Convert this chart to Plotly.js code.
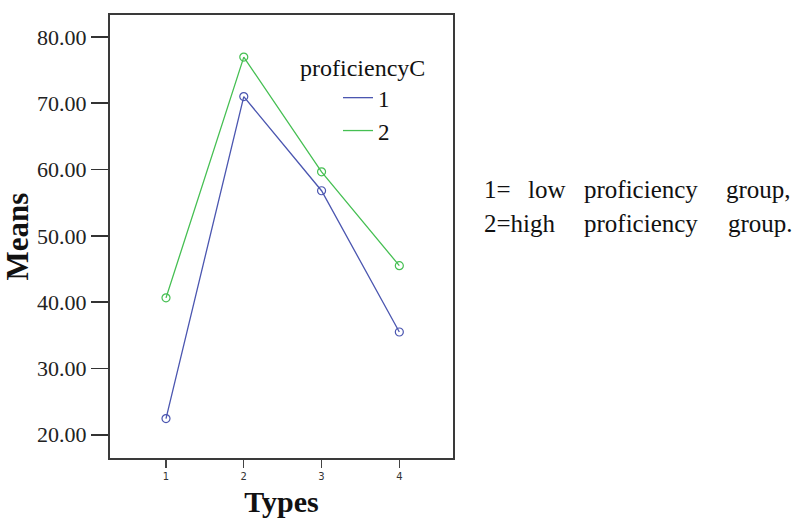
<!DOCTYPE html>
<html>
<head>
<meta charset="utf-8">
<script src="https://cdn.plot.ly/plotly-3.0.1.min.js"></script>
<style>html,body{margin:0;padding:0;background:#fff;}#chart{width:803px;height:523px;}</style>
</head>
<body>
<div id="chart"></div>
<script>
// Data
const types = [1, 2, 3, 4];
const typeLabels = ["1", "2", "3", "4"];
const lowGroup = [22.45, 71.0, 56.8, 35.5];   // proficiencyC = 1
const highGroup = [40.65, 76.95, 59.65, 45.5]; // proficiencyC = 2
const seriesNames = ["1", "2"];
const yTicks = [20, 30, 40, 50, 60, 70, 80];
const noteLine1 = ["1=", "low", "proficiency", "group,"];
const noteLine2 = ["2=high", "proficiency", "group."];

const blue = "#4b56b0";
const green = "#45bf52";
const serif = "Liberation Serif, Times New Roman, serif";

const traces = [
  {x: types, y: lowGroup, name: seriesNames[0], type: "scatter", mode: "lines+markers",
   showlegend: false, line: {color: blue, width: 1.3},
   marker: {symbol: "circle-open", size: 8, color: blue, line: {width: 1.2}}},
  {x: types, y: highGroup, name: seriesNames[1], type: "scatter", mode: "lines+markers",
   showlegend: false, line: {color: green, width: 1.3},
   marker: {symbol: "circle-open", size: 8, color: green, line: {width: 1.2}}},
  // legend entries (line only, as in the reference legend)
  {x: [null], y: [null], name: seriesNames[0], type: "scatter", mode: "lines",
   line: {color: blue, width: 1.3}},
  {x: [null], y: [null], name: seriesNames[1], type: "scatter", mode: "lines",
   line: {color: green, width: 1.3}}
];

// pixel helpers for note placement (plot area: x 110..453, y 15..458)
const L = 110, R = 453, T = 15, B = 458;
const px = v => (v - L) / (R - L);
const py = v => (B - v) / (B - T);
const line1X = [482, 526, 582, 724];
const line2X = [482, 582, 726];
const noteFont = {family: serif, size: 25, color: "#111"};
const annotations = [];
noteLine1.forEach((w, i) => annotations.push({text: w, xref: "paper", yref: "paper",
  x: px(line1X[i]), y: py(189), xanchor: "left", yanchor: "middle", showarrow: false,
  font: noteFont}));
noteLine2.forEach((w, i) => annotations.push({text: w, xref: "paper", yref: "paper",
  x: px(line2X[i]), y: py(223), xanchor: "left", yanchor: "middle", showarrow: false,
  font: noteFont}));

const layout = {
  width: 803, height: 523,
  margin: {l: L, r: 803 - R, t: T, b: 523 - B},
  paper_bgcolor: "#fff", plot_bgcolor: "#fff",
  showlegend: true,
  legend: {
    x: px(298), y: py(45), xanchor: "left", yanchor: "top",
    bgcolor: "rgba(0,0,0,0)", borderwidth: 0,
    title: {text: "proficiencyC", font: {family: serif, size: 24, color: "#111"}},
    font: {family: serif, size: 23, color: "#111"},
    indentation: 40, itemwidth: 30
  },
  xaxis: {
    range: [0.28, 4.69], tickvals: types, ticktext: typeLabels,
    showgrid: false, zeroline: false,
    showline: true, linecolor: "#3a3a3a", linewidth: 2, mirror: true,
    ticks: "outside", ticklen: 8, tickwidth: 1.3, tickcolor: "#444",
    tickfont: {family: "DejaVu Sans", size: 10, color: "#333"},
    title: {text: "<b>Types</b>", standoff: 10,
      font: {family: serif, size: 30, color: "#111"}}
  },
  yaxis: {
    range: [16.5, 83.3], tickvals: yTicks,
    ticktext: yTicks.map(v => v.toFixed(2)),
    showgrid: false, zeroline: false,
    showline: true, linecolor: "#3a3a3a", linewidth: 2, mirror: true,
    ticks: "outside", ticklen: 17, tickwidth: 1.5, tickcolor: "#333",
    tickfont: {family: serif, size: 22, color: "#222"},
    title: {text: "<b>Means</b>", standoff: 6,
      font: {family: serif, size: 31, color: "#111"}}
  },
  annotations: annotations
};

Plotly.newPlot("chart", traces, layout, {displayModeBar: false, staticPlot: true});
</script>
</body>
</html>
